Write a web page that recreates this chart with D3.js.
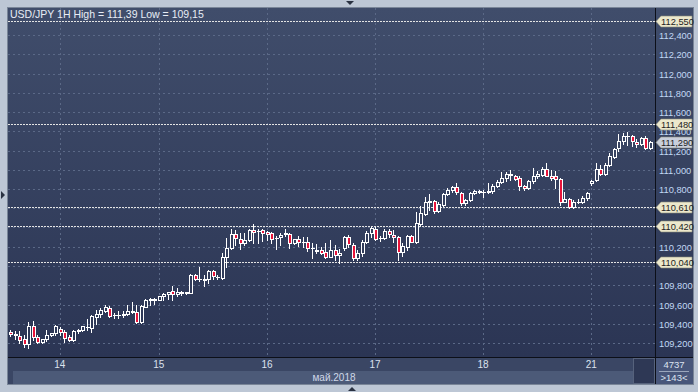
<!DOCTYPE html>
<html><head><meta charset="utf-8">
<script src="https://cdn.jsdelivr.net/npm/d3@7"></script>
<style>html,body{margin:0;padding:0;background:#bdc7d5;} svg{display:block;font-family:"Liberation Sans",Arial,sans-serif;}</style>
</head><body><svg id="c" width="698" height="392"></svg>
<script>
// ---- data (hourly USD/JPY candles) ----
const openP = [109.31,109.28,109.27,109.24,109.19,109.38,109.26,109.21,109.24,109.28,109.30,109.35,109.31,109.26,109.23,109.32,109.33,109.37,109.36,109.47,109.50,109.53,109.56,109.49,109.49,109.49,109.50,109.52,109.52,109.42,109.57,109.66,109.65,109.65,109.69,109.71,109.74,109.71,109.72,109.72,
109.72,109.91,109.86,109.85,109.87,109.95,109.89,109.88,110.09,110.19,110.33,110.28,110.24,110.27,110.37,110.36,110.37,110.35,110.34,110.29,110.30,110.33,110.33,110.24,110.28,110.25,110.25,110.19,110.17,110.17,
110.15,110.09,110.17,110.11,110.19,110.30,110.22,110.08,110.13,110.25,110.34,110.38,110.29,110.29,110.36,110.32,110.30,110.15,110.20,110.31,110.25,110.44,110.54,110.67,110.68,110.57,110.63,110.75,110.79,110.82,
110.76,110.65,110.69,110.76,110.77,110.77,110.77,110.78,110.83,110.87,110.91,110.96,110.94,110.91,110.83,110.81,110.88,110.93,110.95,111.01,110.93,110.93,110.90,110.67,110.70,110.61,110.67,110.66,110.71,110.86,
110.89,111.01,110.96,111.05,111.13,111.23,111.30,111.35,111.35,111.29,111.27,111.33,111.23];
const highP = [109.33,109.32,109.32,109.28,109.42,109.43,109.28,109.24,109.34,109.30,109.39,109.37,109.33,109.28,109.34,109.35,109.38,109.45,109.49,109.54,109.56,109.59,109.58,109.51,109.53,109.53,109.59,109.63,109.59,109.59,109.66,109.67,109.67,109.69,109.72,109.73,109.79,109.77,109.74,109.73,
109.92,109.92,109.99,109.91,109.96,109.96,109.91,110.13,110.29,110.38,110.37,110.34,110.34,110.38,110.44,110.38,110.38,110.36,110.35,110.31,110.34,110.38,110.34,110.28,110.31,110.30,110.30,110.24,110.23,110.20,
110.24,110.27,110.22,110.18,110.31,110.32,110.24,110.17,110.27,110.36,110.41,110.40,110.31,110.38,110.38,110.37,110.31,110.24,110.32,110.32,110.56,110.62,110.72,110.75,110.69,110.67,110.76,110.81,110.83,110.86,
110.77,110.70,110.77,110.79,110.79,110.79,110.86,110.85,110.89,110.98,110.98,111.00,110.95,110.93,110.84,110.89,111.02,110.99,111.03,111.07,111.00,110.99,110.91,110.77,110.71,110.69,110.70,110.73,110.77,110.89,
111.07,111.05,111.07,111.17,111.23,111.37,111.38,111.39,111.36,111.32,111.34,111.35,111.30];
const lowP = [109.27,109.24,109.20,109.16,109.15,109.23,109.20,109.20,109.22,109.27,109.28,109.28,109.21,109.22,109.22,109.30,109.32,109.34,109.31,109.40,109.47,109.52,109.47,109.46,109.46,109.47,109.49,109.51,109.41,109.41,109.57,109.60,109.61,109.65,109.65,109.66,109.65,109.69,109.70,109.71,
109.72,109.85,109.84,109.79,109.82,109.86,109.86,109.86,109.99,110.18,110.22,110.18,110.22,110.26,110.24,110.24,110.26,110.27,110.24,110.18,110.22,110.31,110.19,110.23,110.21,110.20,110.16,110.08,110.13,110.12,
110.08,110.09,110.06,110.03,110.17,110.20,110.06,110.06,110.10,110.24,110.30,110.27,110.26,110.28,110.30,110.25,110.06,110.10,110.17,110.25,110.24,110.43,110.53,110.58,110.55,110.56,110.62,110.74,110.77,110.75,
110.63,110.63,110.68,110.75,110.76,110.72,110.76,110.76,110.82,110.86,110.88,110.89,110.89,110.79,110.79,110.80,110.86,110.91,110.93,110.93,110.89,110.81,110.63,110.66,110.60,110.60,110.65,110.65,110.69,110.84,
110.88,110.95,110.95,111.04,111.12,111.20,111.27,111.26,111.25,111.24,111.26,111.22,111.22];
const closeP = [109.29,109.29,109.23,109.19,109.38,109.26,109.21,109.24,109.28,109.30,109.38,109.31,109.25,109.23,109.32,109.34,109.38,109.37,109.48,109.50,109.54,109.57,109.48,109.49,109.49,109.50,109.53,109.53,109.42,109.58,109.65,109.65,109.66,109.69,109.71,109.73,109.71,109.73,109.73,109.73,
109.91,109.86,109.86,109.87,109.95,109.90,109.89,110.09,110.19,110.33,110.29,110.24,110.27,110.37,110.35,110.36,110.34,110.33,110.28,110.29,110.32,110.34,110.24,110.28,110.25,110.25,110.19,110.19,110.16,110.14,
110.09,110.17,110.11,110.13,110.30,110.23,110.08,110.13,110.25,110.34,110.39,110.28,110.29,110.36,110.33,110.30,110.15,110.21,110.31,110.25,110.45,110.55,110.67,110.68,110.57,110.64,110.75,110.79,110.82,110.77,
110.65,110.69,110.76,110.78,110.78,110.77,110.78,110.83,110.87,110.91,110.96,110.95,110.90,110.83,110.81,110.88,110.94,110.96,111.01,110.94,110.91,110.90,110.67,110.70,110.61,110.67,110.67,110.71,110.76,110.88,
111.01,110.96,111.05,111.14,111.22,111.30,111.35,111.35,111.30,111.27,111.33,111.23,111.29];
const dayLabels = ["14","15","16","17","18","21"];
const dayIndex = [11,33,57,81,105,129];
const priceTicks = [109.2,109.4,109.6,109.8,110.0,110.2,110.4,110.6,110.8,111.0,111.2,111.4,111.6,111.8,112.0,112.2,112.4];
const levels = [112.55,111.48,110.61,110.42,110.04];
const lastPrice = 111.29;
const titleText = "USD/JPY 1H High = 111,39 Low = 109,15";
const monthLabel = "май.2018";
const barsTotal = "4737", barsShown = ">143<";

// ---- layout ----
const L=8, R=655, T=8, B=357, PR=693, PB=384;
const svg = d3.select("#c");
const loc = d3.formatLocale({decimal:",",thousands:" ",grouping:[3],currency:["",""]});
const fmt = loc.format(".3f");
const x = d3.scaleLinear().domain([-0.5, 142.5]).range([L, 652]);
const y = d3.scaleLinear().domain([109.2, 112.4]).range([343, 35]);
const n = openP.length;

const defs = svg.append("defs");
const g = defs.append("linearGradient").attr("id","bg").attr("gradientUnits","userSpaceOnUse")
  .attr("x1",0).attr("y1",T).attr("x2",0).attr("y2",B);
g.append("stop").attr("offset","0%").attr("stop-color","#404d6b");
g.append("stop").attr("offset","100%").attr("stop-color","#2b3554");
defs.append("clipPath").attr("id","plot").append("rect").attr("x",L).attr("y",T).attr("width",R-L).attr("height",B-T);

// outer frame
svg.append("rect").attr("x",0).attr("y",0).attr("width",698).attr("height",392).attr("fill","#bdc7d5");
svg.append("rect").attr("x",L-0.5).attr("y",T-0.5).attr("width",PR-L+1).attr("height",PB-T+1).attr("fill","#3a4664").attr("stroke","#7a8698");
svg.append("rect").attr("x",L).attr("y",T).attr("width",PR-L).attr("height",B-T).attr("fill","url(#bg)");

// arrows on frame
svg.append("path").attr("d","M346,1 L354,1 L350,5 Z").attr("fill","#2a3242");
svg.append("path").attr("d","M1,191 L5,195 L1,199 Z").attr("fill","#2a3242");
svg.append("path").attr("d","M348,391 L356,391 L352,387 Z").attr("fill","#2a3242");

// grid
const grid = svg.append("g").attr("clip-path","url(#plot)");
grid.selectAll("line.h").data(priceTicks).join("line")
  .attr("x1",L).attr("x2",R)
  .attr("y1",d=>Math.round(y(d))+0.5).attr("y2",d=>Math.round(y(d))+0.5)
  .attr("stroke","#5b6987").attr("stroke-dasharray","2,3");
grid.selectAll("line.v").data(dayIndex).join("line")
  .attr("y1",T).attr("y2",B)
  .attr("x1",d=>Math.round(x(d))+0.5).attr("x2",d=>Math.round(x(d))+0.5)
  .attr("stroke","#5b6987").attr("stroke-dasharray","2,3");

// level lines
svg.append("g").selectAll("line").data(levels).join("line")
  .attr("x1",L).attr("x2",R)
  .attr("y1",d=>Math.round(y(d))+0.5).attr("y2",d=>Math.round(y(d))+0.5)
  .attr("stroke","#e4e4e4").attr("stroke-dasharray","2,1");

// candles
const cg = svg.append("g").attr("clip-path","url(#plot)");
d3.range(n).forEach(i=>{
  const o=openP[i], h=highP[i], l=lowP[i], c=closeP[i];
  const cx = Math.round(x(i));
  cg.append("line").attr("x1",cx+0.5).attr("x2",cx+0.5)
    .attr("y1",Math.round(y(h))).attr("y2",Math.round(y(l))+1).attr("stroke","#ffffff");
  const top = Math.round(y(Math.max(o,c))), bot = Math.round(y(Math.min(o,c)));
  if (bot - top < 1) {
    cg.append("line").attr("x1",cx-1).attr("x2",cx+3).attr("y1",top+0.5).attr("y2",top+0.5).attr("stroke","#ffffff");
  } else {
    cg.append("rect").attr("x",cx-0.5).attr("y",top+0.5).attr("width",3).attr("height",bot-top)
      .attr("fill", c<o ? "#e8143a" : "url(#bg)").attr("stroke","#ffffff");
  }
});

// title
svg.append("text").attr("x",10).attr("y",18).attr("font-size",10.5).attr("fill","#e8edf6").text(titleText);

// separators
svg.append("line").attr("x1",R+0.5).attr("x2",R+0.5).attr("y1",T).attr("y2",PB).attr("stroke","#0c0f18");
svg.append("line").attr("x1",L).attr("x2",PR).attr("y1",B+0.5).attr("y2",B+0.5).attr("stroke","#0c0f18");

// right axis labels (those fully hidden under a level tag are not drawn)
const tagVals = levels.concat([lastPrice]);
const visibleTicks = priceTicks.filter(t => d3.min(tagVals, v => Math.abs(y(v)-y(t))) >= 5);
svg.append("g").selectAll("text").data(visibleTicks).join("text")
  .attr("x",659).attr("y",d=>Math.round(y(d))+3.5).attr("font-size",9.3).attr("fill","#c2d8f4")
  .text(d=>fmt(d));

// level tags
function tag(v, fill){
  const yy = Math.round(y(v))+0.5;
  svg.append("path").attr("d",`M656,${yy} L661,${yy-5.5} L692,${yy-5.5} L692,${yy+5.5} L661,${yy+5.5} Z`)
    .attr("fill",fill).attr("stroke","#8a8a7a").attr("stroke-width",0.6);
  svg.append("text").attr("x",661).attr("y",yy+3.5).attr("font-size",9.3).attr("fill","#1c1c1c").text(fmt(v));
}
levels.forEach(v=>tag(v,"#ece8cc"));
tag(lastPrice,"#c9cfdb");

// bottom time axis
svg.append("rect").attr("x",13).attr("y",371).attr("width",633-13).attr("height",PB-371).attr("fill","#4c5a78");
svg.append("g").selectAll("text").data(dayIndex).join("text")
  .attr("x",d=>x(d)).attr("y",368).attr("text-anchor","middle").attr("font-size",10).attr("fill","#dbe2ee")
  .text((d,i)=>dayLabels[i]);
svg.append("text").attr("x",334).attr("y",380.5).attr("text-anchor","middle").attr("font-size",10).attr("fill","#cfd8e8").text(monthLabel);
svg.append("rect").attr("x",633.5).attr("y",358.5).attr("width",21).attr("height",25).attr("fill","#2e3855").attr("stroke","#56627c");
svg.append("rect").attr("x",656).attr("y",358).attr("width",PR-656).attr("height",PB-358).attr("fill","#48567a");
svg.append("text").attr("x",674).attr("y",368).attr("text-anchor","middle").attr("font-size",9.5).attr("fill","#dde4f0").text(barsTotal);
svg.append("line").attr("x1",659).attr("x2",689).attr("y1",371.5).attr("y2",371.5).attr("stroke","#9aa6bc");
svg.append("text").attr("x",674).attr("y",381).attr("text-anchor","middle").attr("font-size",9.5).attr("fill","#dde4f0").text(barsShown);
</script></body></html>
